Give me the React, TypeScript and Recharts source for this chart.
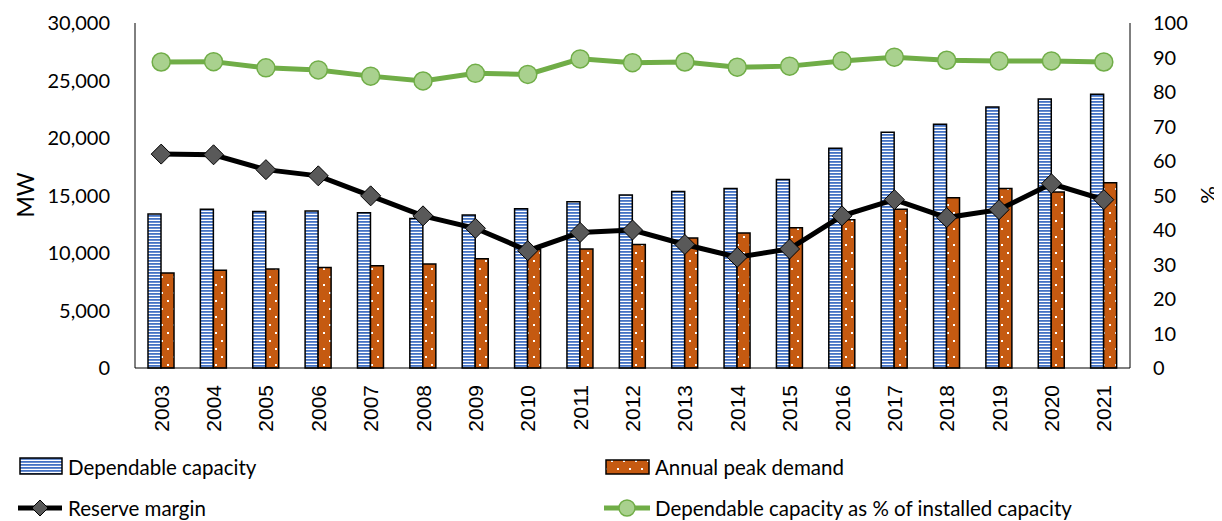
import React from 'react';
import { ComposedChart, Bar, Line, XAxis, YAxis } from 'recharts';

const years = ['2003', '2004', '2005', '2006', '2007', '2008', '2009', '2010', '2011', '2012', '2013', '2014', '2015', '2016', '2017', '2018', '2019', '2020', '2021'];
const dependableCapacity = [13400, 13800, 13600, 13650, 13500, 13000, 13300, 13850, 14450, 15050, 15350, 15600, 16400, 19100, 20500, 21200, 22700, 23400, 23800];
const peakDemand = [8270, 8500, 8600, 8750, 8900, 9050, 9500, 10300, 10350, 10750, 11300, 11750, 12200, 12900, 13800, 14800, 15600, 15300, 16100];
const reserveMargin = [62.0, 61.8, 57.5, 55.7, 49.9, 44.1, 40.5, 34.0, 39.3, 40.0, 35.8, 32.1, 34.5, 44.1, 48.8, 43.6, 45.9, 53.4, 48.8];
const capacityShare = [88.7, 88.8, 87.0, 86.4, 84.6, 83.2, 85.4, 85.1, 89.6, 88.5, 88.7, 87.2, 87.5, 89.0, 90.1, 89.2, 89.0, 89.0, 88.7];

const mwTicks = [0, 5000, 10000, 15000, 20000, 25000, 30000];
const pctTicks = [0, 10, 20, 30, 40, 50, 60, 70, 80, 90, 100];

const data = years.map((year, i) => ({
  year,
  dependable: dependableCapacity[i],
  peak: peakDemand[i],
  reserve: reserveMargin[i],
  share: capacityShare[i],
}));

const FONT = 'Lato, "Open Sans", sans-serif';
const BLUE = '#4472C4';
const ORANGE = '#C55A11';
const GREEN = '#70AD47';
const LIGHT_GREEN = '#A9D18E';
const GREY = '#595959';

const Diamond = (props: any) => {
  const { cx, cy } = props;
  if (cx == null || cy == null) return null;
  const s = 10;
  return (
    <polygon
      points={`${cx},${cy - s} ${cx + s},${cy} ${cx},${cy + s} ${cx - s},${cy}`}
      fill={GREY}
      stroke="#000"
      strokeWidth={1}
    />
  );
};

const YearTick = (props: any) => {
  const { x, y, payload } = props;
  const ty = y + 9;
  return (
    <text
      x={x}
      y={ty}
      transform={`rotate(-90 ${x} ${ty})`}
      textAnchor="end"
      dy="0.36em"
      fontSize={21}
      fontFamily='"Liberation Sans", Arial, sans-serif'
      fill="#000"
    >
      {payload.value}
    </text>
  );
};

function Patterns() {
  return (
    <defs>
      <pattern id="stripes" width="4" height="3" patternUnits="userSpaceOnUse">
        <rect width="4" height="3" fill="#fff" />
        <rect width="4" height="1.8" fill={BLUE} />
      </pattern>
      <pattern id="dots" width="12" height="16" patternUnits="userSpaceOnUse">
        <rect width="12" height="16" fill={ORANGE} />
        <rect x="3" y="4" width="2" height="2" fill="#fff" />
        <rect x="9" y="12" width="2" height="2" fill="#fff" />
      </pattern>
    </defs>
  );
}

function Legend() {
  const text: React.CSSProperties = {
    position: 'absolute',
    fontFamily: FONT,
    fontSize: 20.5,
    color: '#000',
    lineHeight: '24px',
    whiteSpace: 'nowrap',
  };
  return (
    <>
      <svg style={{ position: 'absolute', left: 0, top: 0 }} width={1214} height={513}>
        <Patterns />
        <rect x={12} y={450} width={42} height={16} fill="url(#stripes)" stroke="#000" strokeWidth={1.5} />
        <rect x={598} y={452} width={43} height={14} fill="url(#dots)" stroke="#000" strokeWidth={1.5} />
        <line x1={10} y1={500} x2={54} y2={500} stroke="#000" strokeWidth={5} />
        <polygon points="32,492 40,500 32,508 24,500" fill={GREY} stroke="#000" strokeWidth={1} />
        <line x1={596} y1={500} x2={642} y2={500} stroke={GREEN} strokeWidth={5} />
        <circle cx={619} cy={500} r={8} fill={LIGHT_GREEN} stroke={GREEN} strokeWidth={1.5} />
      </svg>
      <div style={{ ...text, left: 60, top: 447 }}>Dependable capacity</div>
      <div style={{ ...text, left: 647, top: 447 }}>Annual peak demand</div>
      <div style={{ ...text, left: 60, top: 488 }}>Reserve margin</div>
      <div style={{ ...text, left: 647, top: 488 }}>Dependable capacity as % of installed capacity</div>
    </>
  );
}

export default function App() {
  const tick = { fontSize: 20, fontFamily: FONT, fill: '#000' };
  return (
    <div style={{ position: 'relative', width: 1214, height: 513, background: '#fff' }}>
      <ComposedChart
        width={1214}
        height={440}
        data={data}
        margin={{ top: 15, right: 0, left: 0, bottom: 0 }}
        barGap={0}
      >
        <Patterns />
        <XAxis
          dataKey="year"
          height={80}
          tickLine={false}
          axisLine={{ stroke: '#000', strokeWidth: 1 }}
          interval={0}
          tick={<YearTick />}
        />
        <YAxis
          yAxisId="mw"
          width={127}
          domain={[0, 30000]}
          ticks={mwTicks}
          tickFormatter={(v: number) => v.toLocaleString('en-US')}
          tickLine={false}
          tickSize={0}
          tickMargin={25}
          axisLine={{ stroke: '#000', strokeWidth: 1 }}
          tick={tick}
          label={{
            content: () => (
              <text x={17} y={187} transform="rotate(-90 17 187)" textAnchor="middle" dominantBaseline="central" fontSize={23} fontFamily={FONT} fill="#000">
                MW
              </text>
            ),
          }}
        />
        <YAxis
          yAxisId="pct"
          orientation="right"
          width={92}
          domain={[0, 100]}
          ticks={pctTicks}
          tickLine={false}
          tickSize={0}
          tickMargin={23}
          axisLine={{ stroke: '#000', strokeWidth: 1 }}
          tick={tick}
          label={{
            content: () => (
              <text x={1199} y={187} transform="rotate(-90 1199 187)" textAnchor="middle" dominantBaseline="central" fontSize={22} fontFamily={FONT} fill="#000">
                %
              </text>
            ),
          }}
        />
        <Bar yAxisId="mw" dataKey="dependable" barSize={13} fill="url(#stripes)" stroke="#000" strokeWidth={1.5} isAnimationActive={false} />
        <Bar yAxisId="mw" dataKey="peak" barSize={13} fill="url(#dots)" stroke="#000" strokeWidth={1.5} isAnimationActive={false} />
        <Line yAxisId="pct" dataKey="reserve" stroke="#000" strokeWidth={5} dot={<Diamond />} activeDot={false} isAnimationActive={false} />
        <Line
          yAxisId="pct"
          dataKey="share"
          stroke={GREEN}
          strokeWidth={5}
          dot={{ r: 9, fill: LIGHT_GREEN, stroke: GREEN, strokeWidth: 1.5 }}
          activeDot={false}
          isAnimationActive={false}
        />
      </ComposedChart>
      <Legend />
    </div>
  );
}
